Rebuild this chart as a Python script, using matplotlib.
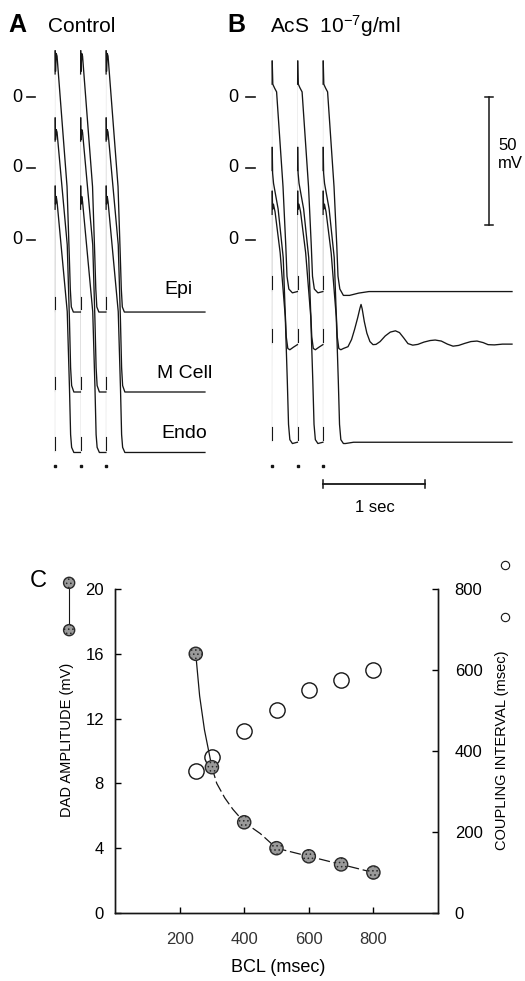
import matplotlib.pyplot as plt

plt.rcParams['font.family'] = ['Liberation Sans', 'DejaVu Sans']
plt.rcParams['mathtext.fontset'] = 'custom'
plt.rcParams['mathtext.rm'] = 'Liberation Sans'
plt.rcParams['mathtext.it'] = 'Liberation Sans:italic'
plt.rcParams['mathtext.bf'] = 'Liberation Sans:bold'
plt.rcParams['hatch.linewidth'] = 0.6

W, H = 525, 981
INK = '#161616'
PX_MS = 0.102   # horizontal scale of the recordings, px per ms
PX_MV = 2.56    # vertical scale of the recordings, px per mV

# stimulus times (ms from the first stimulus)
stim_ms = [0, 250, 500]

# one beat of each recording: ms after the stimulus, mV
ctrl_epi_t = [0, 2, 5, 12, 20, 118, 140, 150, 160, 180, 249]
ctrl_epi_v = [-84, 18, 10, 17, 16, -35, -62, -75, -82, -84, -84]
ctrl_m_t = [0, 2, 5, 12, 20, 120, 142, 153, 163, 185, 249]
ctrl_m_v = [-87.5, 19.5, 11, 15, 14, -30, -60, -78, -85, -87.5, -87.5]
ctrl_endo_t = [0, 2, 5, 12, 20, 120, 142, 153, 163, 185, 249]
ctrl_endo_v = [-83, 21, 14, 17, 15, -28, -58, -76, -81, -83, -83]

acs_epi_t = [0, 2, 8, 25, 45, 108, 135, 147, 165, 200, 249]
acs_epi_v = [-76, 14, 5, 3.5, 2, -35, -58, -70, -75, -76.5, -76]
acs_m_t = [0, 2, 6, 15, 60, 110, 128, 140, 155, 175, 210, 249]
acs_m_v = [-69, 8, -2, -6, -16, -35, -55, -66, -70.5, -71, -70, -69]
acs_endo_t = [0, 2, 6, 14, 30, 80, 130, 150, 162, 175, 200, 249]
acs_endo_v = [-79, 19, 12, 14, 11, -5, -30, -55, -72, -78, -79.5, -79]

# what follows the last beat (ms from the first stimulus, mV)
ctrl_epi_tail_t, ctrl_epi_tail_v = [700, 1470], [-84, -84]
ctrl_m_tail_t, ctrl_m_tail_v = [700, 1470], [-87.5, -87.5]
ctrl_endo_tail_t, ctrl_endo_tail_v = [700, 1470], [-83, -83]
acs_epi_tail_t = [700, 760, 850, 950, 2353]
acs_epi_tail_v = [-77.5, -77.5, -76.6, -76, -76]
# M cell after the last beat: delayed afterdepolarizations
acs_m_tail_t = [700, 745, 780, 810, 840, 862, 873, 884, 905, 930, 960, 990,
                1020, 1060, 1110, 1160, 1210, 1250, 1290, 1333, 1380, 1430,
                1490, 1550, 1600, 1660, 1720, 1775, 1830, 1890, 1950, 2010,
                2070, 2118, 2180, 2260, 2353]
acs_m_tail_v = [-70.5, -69.8, -67, -63, -58.5, -54.8, -53.3, -55, -60, -64.5,
                -67.8, -69, -68.9, -67.8, -65.6, -64.1, -63.6, -64.3, -66.3,
                -68.6, -69.2, -68.9, -68.0, -67.4, -67.2, -67.6, -68.8, -69.6,
                -69.3, -68.5, -67.8, -67.6, -68.2, -69.0, -69.1, -68.8, -68.8]
acs_endo_tail_t, acs_endo_tail_v = [720, 800, 2353], [-79.5, -79, -79]

# panel C
bcl = [250, 300, 400, 500, 600, 700, 800]
dad_amp = [16.0, 9.0, 5.6, 4.0, 3.5, 3.0, 2.5]
coupling = [350, 385, 450, 500, 550, 575, 600]
fit_bcl = [250, 262, 277, 300, 315, 340, 365, 400, 450, 500, 600, 700, 800]
fit_amp = [16.0, 13.4, 11.3, 9.0, 8.0, 7.1, 6.4, 5.6, 4.9, 4.0, 3.5, 3.0, 2.5]

zero_py = [97, 168, 240]          # 0 mV level of Epi, M cell, Endo
offsets = [(zero_py[0] - z) / PX_MV for z in zero_py]

fig = plt.figure(figsize=(W / 100, H / 100), dpi=100)


def rec_axes(left, right, stim_px, bottom=540):
    ax = fig.add_axes([left / W, 1 - bottom / H, (right - left) / W, bottom / H])
    ax.set_xlim((left - stim_px) / PX_MS, (right - stim_px) / PX_MS)
    ax.set_ylim((zero_py[0] - bottom) / PX_MV, zero_py[0] / PX_MV)
    ax.axis('off')
    return ax


def draw_trace(ax, bt, bv, tail_t, tail_v, shift):
    last = len(stim_ms) - 1
    for k, s in enumerate(stim_ms):
        t = [s + x for x in bt[1:]]
        v = [y + shift for y in bv[1:]]
        if k == last:
            keep = [i for i, x in enumerate(t) if x < tail_t[0]]
            t = [t[i] for i in keep] + list(tail_t)
            v = [v[i] for i in keep] + [y + shift for y in tail_v]
        ax.plot(t, v, color=INK, lw=0.95, solid_joinstyle='round')
        # fast upstroke: barely visible except at the foot and the tip
        rest, peak = bv[0] + shift, bv[1] + shift
        t0, t1 = s + bt[0], s + bt[1]
        ax.plot([t0, t1], [rest, peak], color=INK, lw=0.4, alpha=0.12)
        ax.plot([t0, t0], [rest + 1, rest + 6], color=INK, lw=0.8)
        ax.plot([t1 - 1, t1], [peak - 9, peak], color=INK, lw=0.9)


axA = rec_axes(0, 262, 55)
axB = rec_axes(262, 525, 272)

draw_trace(axA, ctrl_epi_t, ctrl_epi_v, ctrl_epi_tail_t, ctrl_epi_tail_v, offsets[0])
draw_trace(axA, ctrl_m_t, ctrl_m_v, ctrl_m_tail_t, ctrl_m_tail_v, offsets[1])
draw_trace(axA, ctrl_endo_t, ctrl_endo_v, ctrl_endo_tail_t, ctrl_endo_tail_v, offsets[2])
draw_trace(axB, acs_epi_t, acs_epi_v, acs_epi_tail_t, acs_epi_tail_v, offsets[0])
draw_trace(axB, acs_m_t, acs_m_v, acs_m_tail_t, acs_m_tail_v, offsets[1])
draw_trace(axB, acs_endo_t, acs_endo_v, acs_endo_tail_t, acs_endo_tail_v, offsets[2])

# stimulus markers
stim_level = (zero_py[0] - 466) / PX_MV
for ax in (axA, axB):
    ax.plot(stim_ms, [stim_level] * len(stim_ms), 's', ms=2, color=INK)

# calibration: 50 mV and 1 sec
cal_t = (489 - 272) / PX_MS
cap = 4 / PX_MS
axB.plot([cal_t, cal_t], [0, -50], color=INK, lw=1.1)
for y in (0, -50):
    axB.plot([cal_t - cap, cal_t + cap], [y, y], color=INK, lw=1.1)
bar_v = (zero_py[0] - 484) / PX_MV
axB.plot([500, 1500], [bar_v, bar_v], color=INK, lw=1.3)
for x in (500, 1500):
    axB.plot([x, x], [bar_v - 1.6, bar_v + 1.6], color=INK, lw=1.1)

# panel C
axC = fig.add_axes([115 / W, 1 - 913 / H, 323 / W, 324 / H])
axR = axC.twinx()
axC.set_zorder(axR.get_zorder() + 1)
axC.patch.set_visible(False)
axC.set_xlim(0, 1000)
axC.set_ylim(0, 20)
axR.set_ylim(0, 800)

axR.plot(bcl, coupling, 'o', ms=11, mfc='white', mec=INK, mew=1.0)
axC.plot(fit_bcl[:4], fit_amp[:4], color=INK, lw=0.9)
axC.plot(fit_bcl[3:], fit_amp[3:], color=INK, lw=0.9, dashes=(9, 3))
# stippled grey dots
axC.scatter(bcl, dad_amp, s=9.5 ** 2, facecolor='#9a9a9a', edgecolor='#2a2a2a',
            linewidth=1.0, hatch='....', zorder=3)

axC.set_xticks([200, 400, 600, 800])
axC.set_yticks([0, 4, 8, 12, 16, 20])
axR.set_yticks([0, 200, 400, 600, 800])
axC.tick_params(axis='y', direction='in', length=4, width=1, labelsize=12, pad=8)
axC.tick_params(axis='x', direction='in', length=4, width=1, labelsize=12, pad=14,
                labelcolor='#333333')
axR.tick_params(axis='y', direction='in', length=4, width=1, labelsize=12, pad=12)
for a in (axC, axR):
    a.spines['top'].set_visible(False)
    for s in ('left', 'right', 'bottom'):
        a.spines[s].set_linewidth(1.0)
        a.spines[s].set_color(INK)

# symbol keys beside the axis titles
axC.plot([-0.142, -0.142], [1.019, 0.873], color=INK, lw=0.8,
         transform=axC.transAxes, clip_on=False)
axC.scatter([-0.142, -0.142], [1.019, 0.873], s=8 ** 2, facecolor='#9a9a9a',
            edgecolor='#2a2a2a', linewidth=1.0, hatch='....',
            transform=axC.transAxes, clip_on=False, zorder=3)
axC.plot([1.207, 1.207], [1.074, 0.914], 'o', ms=6, mfc='white', mec=INK,
         mew=0.8, ls='none', transform=axC.transAxes, clip_on=False)

# text layer in pixel coordinates
ov = fig.add_axes([0, 0, 1, 1], zorder=20)
ov.set_xlim(0, W)
ov.set_ylim(H, 0)
ov.axis('off')
ov.patch.set_alpha(0)

ov.text(8, 25, 'A', fontsize=18, weight='bold', va='center')
ov.text(48, 26, 'Control', fontsize=15, va='center')
ov.text(227, 25, 'B', fontsize=18, weight='bold', va='center')
ov.text(270, 26, 'AcS  10$^{-7}$g/ml', fontsize=15, va='center')

for zx, dash in ((17, (27, 35)), (233, (246, 255))):
    for zy in zero_py:
        ov.text(zx, zy, '0', fontsize=13, ha='center', va='center')
        ov.plot(dash, [zy, zy], color=INK, lw=1.2)

ov.text(193, 290, 'Epi', fontsize=14, ha='right', va='center')
ov.text(212, 374, 'M Cell', fontsize=14, ha='right', va='center')
ov.text(207, 434, 'Endo', fontsize=14, ha='right', va='center')
ov.text(498, 145, '50', fontsize=12, va='center')
ov.text(498, 164, 'mV', fontsize=12, va='center')
ov.text(375, 508, '1 sec', fontsize=12, ha='center', va='center')

ov.text(30, 581, 'C', fontsize=17, va='center')
ov.text(278, 968, 'BCL (msec)', fontsize=13, ha='center', va='center')
ov.text(67, 740, 'DAD AMPLITUDE (mV)', fontsize=10.5, rotation=90,
        ha='center', va='center')
ov.text(502, 750, 'COUPLING INTERVAL (msec)', fontsize=10.5, rotation=90,
        ha='center', va='center')

fig.savefig('out.png', dpi=100)
